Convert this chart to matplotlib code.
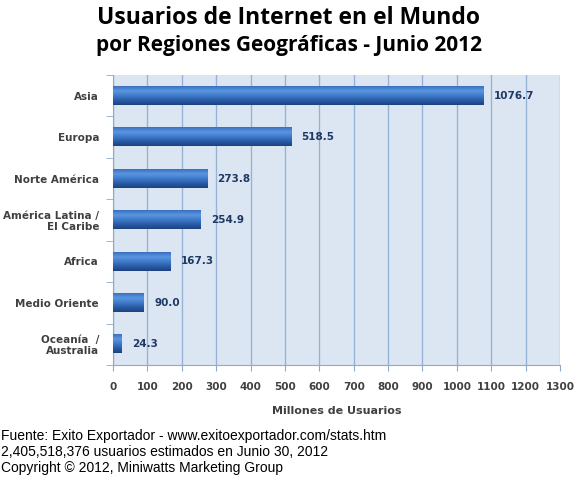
import matplotlib.pyplot as plt
import numpy as np
from matplotlib.colors import LinearSegmentedColormap

regiones = ['Asia', 'Europa', 'Norte América', 'América Latina /\nEl Caribe',
            'Africa', 'Medio Oriente', 'Oceanía  /\nAustralia']
usuarios = [1076.7, 518.5, 273.8, 254.9, 167.3, 90.0, 24.3]
ticks_x = list(range(0, 1400, 100))

fig = plt.figure(figsize=(5.77, 4.8), dpi=100)
ax = fig.add_axes([113 / 577, 1 - 365 / 480, 447 / 577, 290 / 480])
ax.set_facecolor('#DCE6F2')

n = len(regiones)
y = np.arange(n)[::-1]  # Asia arriba
alto = 0.44

# degradado vertical de las barras (abajo oscuro, arriba claro)
cmap = LinearSegmentedColormap.from_list('barra', ['#1B4380', '#2A5BA5', '#3F7BCB', '#5B96E0', '#3A6FC0'])
grad = np.linspace(0, 1, 64).reshape(-1, 1)

for yi, v in zip(y, usuarios):
    ax.imshow(grad, extent=(0, v, yi - alto / 2, yi + alto / 2), origin='lower',
              cmap=cmap, aspect='auto', zorder=3)
    ax.text(v + 30, yi, f'{v:.1f}', va='center', ha='left', fontsize=7.5,
            fontweight='bold', color='#1F3864', family='DejaVu Sans', zorder=4)

ax.set_xlim(0, 1300)
ax.set_ylim(-0.5, n - 0.5)
ax.set_xticks(ticks_x)
ax.set_xticklabels([str(t) for t in ticks_x], fontsize=7.5, fontweight='bold', color='#404040')
ax.set_yticks(y)
ax.set_yticklabels(regiones, fontsize=7.5, fontweight='bold', color='#404040', linespacing=1.1)
ax.set_yticks(np.arange(n + 1) - 0.5, minor=True)
ax.tick_params(axis='y', which='major', length=0, pad=10)
ax.tick_params(axis='y', which='minor', length=5, color='#8EA9CF', direction='out')
ax.tick_params(axis='x', length=4, color='#8EA9CF', direction='out', pad=8)
ax.grid(axis='x', color='#95B3D7', linewidth=1, zorder=1)
ax.set_axisbelow(True)
for s in ['top', 'right']:
    ax.spines[s].set_visible(False)
for s in ['left', 'bottom']:
    ax.spines[s].set_color('#8EA9CF')

ax.set_xlabel('Millones de Usuarios', fontsize=8, fontweight='bold', color='#404040', labelpad=10)

fig.text(0.5, 1 - 18 / 480, 'Usuarios de Internet en el Mundo', ha='center', va='center',
         fontsize=16.5, fontweight='bold', family='Open Sans', color='black')
fig.text(0.5, 1 - 45 / 480, 'por Regiones Geográficas - Junio 2012', ha='center', va='center',
         fontsize=15, fontweight='bold', family='Open Sans', color='black')

pie = ['Fuente: Exito Exportador - www.exitoexportador.com/stats.htm',
       '2,405,518,376 usuarios estimados en Junio 30, 2012',
       'Copyright © 2012, Miniwatts Marketing Group']
for i, linea in enumerate(pie):
    fig.text(1 / 577, 1 - (436 + 16 * i) / 480, linea, ha='left', va='center',
             fontsize=10, family='Liberation Sans', color='black')

fig.savefig('out.png', dpi=100)
